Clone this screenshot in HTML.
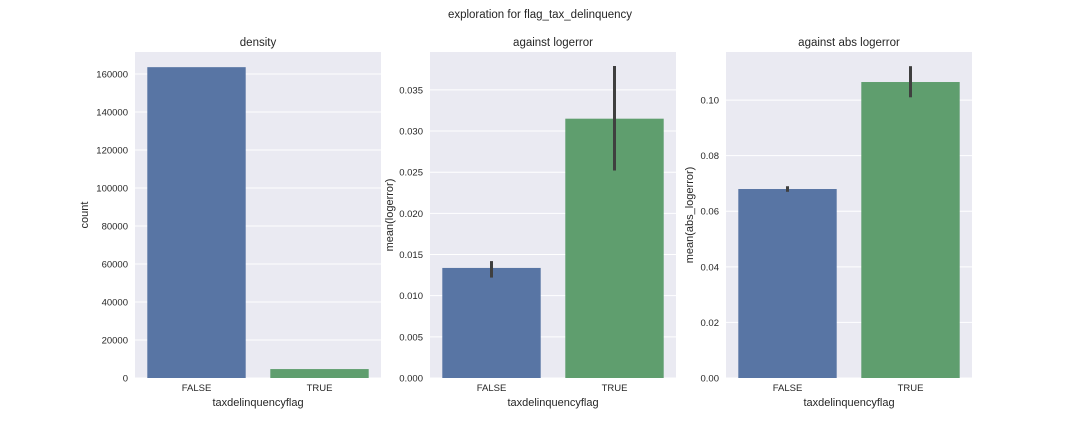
<!DOCTYPE html>
<html><head><meta charset="utf-8">
<style>
body{margin:0;background:#fff;}
svg text{font-family:"Liberation Sans",Arial,sans-serif;fill:#262626;}
</style></head>
<body>
<svg id="fig" width="1080" height="432" viewBox="0 0 1080 432" xmlns="http://www.w3.org/2000/svg">
<text x="540" y="18" text-anchor="middle" font-size="11.5">exploration for flag_tax_delinquency</text>
</svg>
<script>
const categories = ["FALSE","TRUE"];
const densityValues = [163600, 4700];
const densityTicks = [0,20000,40000,60000,80000,100000,120000,140000,160000];
const logerrorValues = [0.01337, 0.0315];
const logerrorLow = [0.0122, 0.0252];
const logerrorHigh = [0.0142, 0.0379];
const logerrorTicks = ["0.000","0.005","0.010","0.015","0.020","0.025","0.030","0.035"];
const absValues = [0.068, 0.1065];
const absLow = [0.067, 0.101];
const absHigh = [0.069, 0.1122];
const absTicks = ["0.00","0.02","0.04","0.06","0.08","0.10"];

const NS="http://www.w3.org/2000/svg";
const svg=document.getElementById('fig');
const colors=["#5875a4","#5f9e6e"];
function mk(tag,attrs,parent){const e=document.createElementNS(NS,tag);for(const k in attrs)e.setAttribute(k,attrs[k]);(parent||svg).appendChild(e);return e;}

function panel(opts){
  const L=opts.left,W=246,T=52,B=378;
  const g=mk('g',{});
  
  
  const bg=mk('rect',{x:L,y:T,width:W,height:B-T,fill:"#eaeaf2"},g);
  
  
  const ymax=opts.ymax;
  const y=v=>B-(v/ymax)*(B-T);
  const x=i=>L+W*(i+0.5)/categories.length;
  opts.ticks.forEach(t=>{
    const v=parseFloat(t);
    const yy=y(v);
    const gl=mk('line',{x1:L,x2:L+W,y1:yy,y2:yy,stroke:"#fff","stroke-width":1},g);
    
    
    const tl=mk('text',{x:L-7,y:yy+3.5,"text-anchor":"end","font-size":"9.5"},g);
    tl.textContent=String(t);
    
    
  });
  const bw=W/categories.length*0.8;
  categories.forEach((c,i)=>{
    const r=mk('rect',{x:x(i)-bw/2,y:y(opts.values[i]),width:bw,height:B-y(opts.values[i]),fill:colors[i]},g);
    
    
    if(opts.low){
      const e=mk('line',{x1:x(i),x2:x(i),y1:y(opts.low[i]),y2:y(opts.high[i]),stroke:"#3f3f3f","stroke-width":3},g);
      
      
    }
    const xl=mk('text',{x:x(i),y:B+13,"text-anchor":"middle","font-size":"9.5"},g);
    xl.textContent=c;
    
    
  });
  const xt=mk('text',{x:L+W/2,y:B+28,"text-anchor":"middle","font-size":"11"},g);
  xt.textContent="taxdelinquencyflag";
  
  
  const yt=mk('text',{x:0,y:0,"text-anchor":"middle","font-size":"11",transform:`translate(${opts.ytx},${(T+B)/2}) rotate(-90)`},g);
  yt.textContent=opts.ylabel;
  
  
  const tt=mk('text',{x:L+W/2,y:T-6,"text-anchor":"middle","font-size":"11.5"},g);
  tt.textContent=opts.title;
  
  
}
panel({name:'density-panel',left:135,ymax:171580,ticks:densityTicks,values:densityValues,ylabel:'count',title:'density',ytx:88});
panel({name:'logerror-panel',left:430,ymax:0.0396,ticks:logerrorTicks,values:logerrorValues,low:logerrorLow,high:logerrorHigh,ylabel:'mean(logerror)',title:'against logerror',ytx:393});
panel({name:'abs-logerror-panel',left:726,ymax:0.1173,ticks:absTicks,values:absValues,low:absLow,high:absHigh,ylabel:'mean(abs_logerror)',title:'against abs logerror',ytx:693});
</script>
</body></html>
